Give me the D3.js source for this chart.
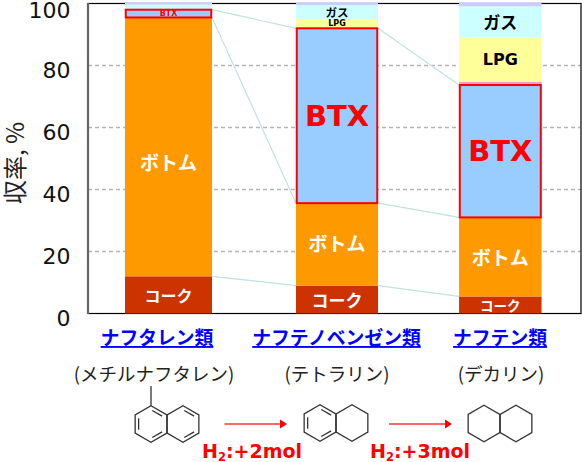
<!DOCTYPE html>
<html><head><meta charset="utf-8">
<script src="https://cdn.jsdelivr.net/npm/d3@7"></script>
<style>html,body{margin:0;background:#fff}svg{display:block}</style></head>
<body><svg id="c" width="582" height="462"></svg>
<script>
const categories=["ナフタレン類","ナフテノベンゼン類","ナフテン類"];
const subLabels=["(メチルナフタレン)","(テトラリン)","(デカリン)"];
const coke=[12,9,5.5];
const bottom=[83.5,26.6,25.5];
const btx=[2.5,56.4,42.7];
const pink=[0,0,1];
const lpg=[0,3,14.3];
const gas=[1.7,4.5,10.1];
const rest=[0.7,0.9,1.3];
const colors=["#cc3300","#ff9900","#99ccff","#ff99cc","#ffff99","#ccffff","#ccccff"];
const yTicks=[0,20,40,60,80,100];

const JP='"Noto Sans CJK JP","Noto Sans",sans-serif';
const NUM='"DejaVu Sans",sans-serif';
const svg=d3.select("#c");
const y=d3.scaleLinear().domain([0,100]).range([313.5,3.5]);
const x=d3.scaleOrdinal().domain(categories).range([168.5,337,500.3]);
const bw=[87,82,82.5];
const catX=[157,336.5,500], subX=[154,337,501];
const pl=88, pr=581;

// grid + frame
svg.append("g").selectAll("line").data(yTicks.filter(d=>d>0&&d<100)).join("line")
 .attr("x1",pl).attr("x2",pr).attr("y1",d=>y(d)).attr("y2",d=>y(d))
 .attr("stroke","#b5b5b5").attr("stroke-width",1.3).attr("stroke-dasharray","4 3");
svg.append("rect").attr("x",pl).attr("y",y(100)).attr("width",pr-pl).attr("height",y(0)-y(100))
 .attr("fill","none").attr("stroke","#000").attr("stroke-width",1.2);
svg.append("line").attr("x1",pl).attr("x2",pl).attr("y1",y(100)-.5).attr("y2",y(0)+.5).attr("stroke","#666").attr("stroke-width",2.2);

// ticks
svg.append("g").selectAll("text").data(yTicks).join("text")
 .attr("x",70.5).attr("y",d=>y(d)+(d==100?14:d==0?12.5:12)).attr("text-anchor","end")
 .attr("font-family",NUM).attr("font-size",22).attr("fill","#111").text(d=>d);
svg.append("text").attr("transform","translate(24,163) rotate(-90)").attr("text-anchor","middle")
 .attr("font-family",JP).attr("font-size",24).attr("fill","#222").text("収率, %");

// stacks
const vals=[coke,bottom,btx,pink,lpg,gas,rest];
const stacks=categories.map((c,i)=>{let s=0;return vals.map((v,k)=>{const o={k,i,y0:s,y1:s+v[i]};s+=v[i];return o;});});

// connectors between adjacent bars
const conn=svg.append("g").attr("stroke","#c0e2e2").attr("stroke-width",1.2);
[0,1].forEach(i=>{
  [0,1,2].forEach(k=>{
    conn.append("line").attr("x1",x(categories[i])+bw[i]/2).attr("x2",x(categories[i+1])-bw[i+1]/2)
      .attr("y1",y(stacks[i][k].y1)).attr("y2",y(stacks[i+1][k].y1));
  });
});

const bars=svg.append("g");
stacks.forEach((st,i)=>{
  const x0=x(categories[i])-bw[i]/2;
  st.forEach(s=>{ if(s.y1<=s.y0||s.k===2) return;
    bars.append("rect").attr("x",x0).attr("width",bw[i]).attr("y",y(s.y1)).attr("height",y(s.y0)-y(s.y1)).attr("fill",colors[s.k]);
  });
  const s=st[2];
  bars.append("rect").attr("x",x0+.75).attr("width",bw[i]-1.5).attr("y",y(s.y1)).attr("height",y(s.y0)-y(s.y1))
    .attr("fill",colors[2]).attr("stroke","#ff0000").attr("stroke-width",2);
});

// segment labels
function lab(i,k,size,color,txt,dy=0,font=JP){
  const s=stacks[i][k];
  svg.append("text").attr("x",x(categories[i])).attr("y",(y(s.y0)+y(s.y1))/2+dy)
   .attr("text-anchor","middle").attr("dominant-baseline","central")
   .attr("font-family",font).attr("font-weight",700).attr("font-size",size).attr("fill",color).text(txt);
}
lab(0,0,16,"#fff","コーク");lab(1,0,17,"#fff","コーク");lab(2,0,13.5,"#fff","コーク");
lab(0,1,19,"#fff","ボトム",15);lab(1,1,19,"#fff","ボトム",-2);lab(2,1,19,"#fff","ボトム");
lab(0,2,8,"#f00","BTX",0,NUM);lab(1,2,29,"#f00","BTX",0,NUM);lab(2,2,29,"#f00","BTX",0,NUM);
lab(1,4,8,"#000","LPG",0,NUM);lab(2,4,16,"#000","LPG",0,NUM);
lab(1,5,11.5,"#000","ガス");lab(2,5,17,"#000","ガス");

// category labels
categories.forEach((c,i)=>{
  svg.append("text").attr("x",catX[i]).attr("y",345).attr("text-anchor","middle")
   .attr("font-family",JP).attr("font-weight",700).attr("font-size",18.8).attr("fill","#0000ff")
   .attr("text-decoration","underline").text(c);
  svg.append("text").attr("x",subX[i]).attr("y",381).attr("text-anchor","middle")
   .attr("font-family",JP).attr("font-size",18.5).attr("fill","#222").text(subLabels[i]);
});

// molecules
const mol=svg.append("g").attr("fill","none").attr("stroke","#333").attr("stroke-width",1.3);
function hexPts(cx,cy,r){return d3.range(6).map(i=>{const a=Math.PI/3*i-Math.PI/2;return [cx+r*Math.cos(a),cy+r*Math.sin(a)];});}
function hex(cx,cy,r){mol.append("path").attr("d",d3.line()(hexPts(cx,cy,r))+"Z");}
function dbl(cx,cy,r,edges){const p=hexPts(cx,cy,r*.78);edges.forEach(e=>{const a=p[e],b=p[(e+1)%6];
  mol.append("line").attr("x1",a[0]+(b[0]-a[0])*.1).attr("y1",a[1]+(b[1]-a[1])*.1)
    .attr("x2",b[0]+(a[0]-b[0])*.1).attr("y2",b[1]+(a[1]-b[1])*.1);});}
const R=18.3;
hex(151,424,R);hex(183,424,R);dbl(151,424,R,[0,2,4]);dbl(183,424,R,[0,2]);
mol.append("line").attr("x1",151).attr("x2",151).attr("y1",405.7).attr("y2",386);
hex(320,423,R);hex(352,423,R);dbl(320,423,R,[0,2,4]);
hex(484,423.5,R);hex(516,423.5,R);

// arrows
[[224.5,287],[389,452]].forEach(([a,b])=>{
  svg.append("line").attr("x1",a).attr("x2",b-6).attr("y1",424).attr("y2",424).attr("stroke","#ff3333").attr("stroke-width",1.6);
  svg.append("path").attr("d",d3.line()([[b-7,419.5],[b,424],[b-7,428.5]])+"Z").attr("fill","#ff0000");
});
[[202,"+2mol"],[370,"+3mol"]].forEach(([px,t])=>{
  const g=svg.append("text").attr("x",px).attr("y",457.5).attr("font-family",NUM).attr("font-weight",700).attr("font-size",19).attr("fill","#ff0000");
  g.append("tspan").text("H");
  g.append("tspan").attr("font-size",11.5).attr("dy",3).text("2");
  g.append("tspan").attr("dy",-3).text(":"+t);
});
</script></body></html>
